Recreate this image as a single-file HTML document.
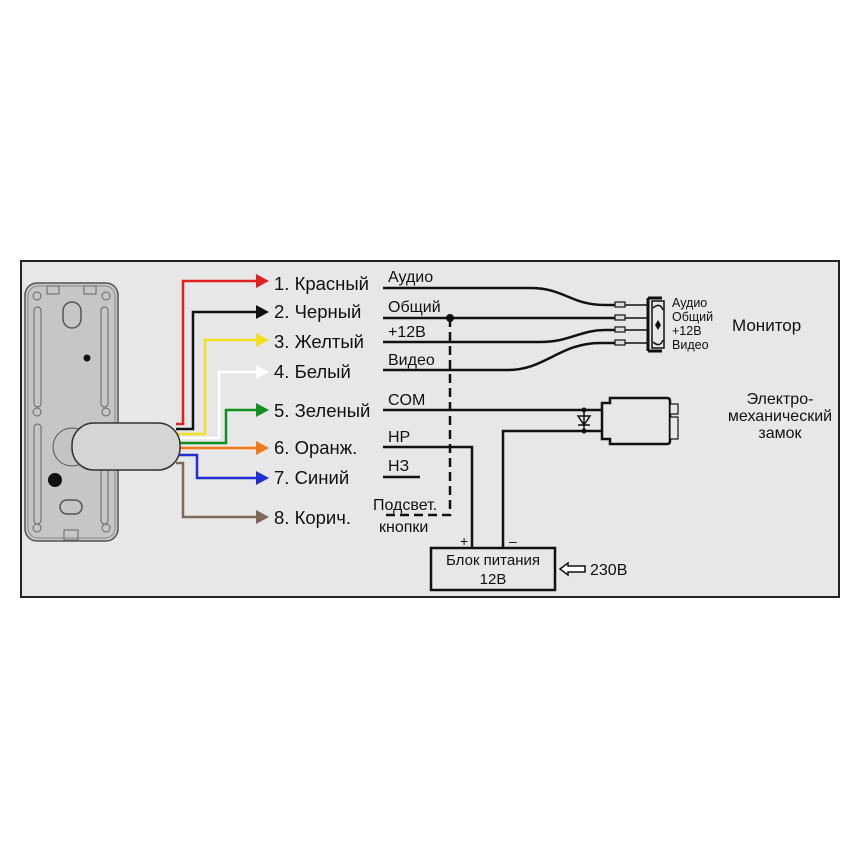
<!DOCTYPE html>
<html><head><meta charset="utf-8"><style>
html,body{margin:0;padding:0;background:#fff;}
svg{display:block;}
text{font-family:"Liberation Sans","DejaVu Sans",sans-serif;fill:#111;}
</style></head><body>
<svg width="860" height="860" viewBox="0 0 860 860" xmlns="http://www.w3.org/2000/svg">
<rect x="0" y="0" width="860" height="860" fill="#fff"/>
<rect x="21" y="261" width="818" height="336" fill="#e7e7e7" stroke="#222" stroke-width="2"/>
<!-- panel -->
<rect x="25" y="283" width="93" height="258" rx="12" fill="#c6c6c6" stroke="#555" stroke-width="1.5"/>
<rect x="28" y="286" width="87" height="252" rx="10" fill="none" stroke="#888" stroke-width="1"/>
<rect x="47" y="286" width="12" height="8" fill="none" stroke="#666"/>
<rect x="84" y="286" width="12" height="8" fill="none" stroke="#666"/>
<circle cx="37" cy="296" r="4" fill="none" stroke="#666"/><circle cx="106" cy="296" r="4" fill="none" stroke="#666"/>
<rect x="63" y="302" width="18" height="26" rx="9" fill="none" stroke="#555" stroke-width="1.5"/>
<rect x="34" y="307" width="7" height="100" rx="3.5" fill="none" stroke="#666"/>
<rect x="101" y="307" width="7" height="100" rx="3.5" fill="none" stroke="#666"/>
<rect x="34" y="424" width="7" height="100" rx="3.5" fill="none" stroke="#666"/>
<rect x="101" y="424" width="7" height="100" rx="3.5" fill="none" stroke="#666"/>
<circle cx="37" cy="412" r="4" fill="none" stroke="#666"/><circle cx="106" cy="412" r="4" fill="none" stroke="#666"/>
<circle cx="37" cy="528" r="4" fill="none" stroke="#666"/><circle cx="106" cy="528" r="4" fill="none" stroke="#666"/>
<circle cx="87" cy="358" r="3.5" fill="#111"/>
<circle cx="55" cy="480" r="7" fill="#111"/>
<rect x="60" y="500" width="22" height="14" rx="7" fill="none" stroke="#555" stroke-width="1.5"/>
<rect x="64" y="530" width="14" height="10" fill="none" stroke="#666"/>
<circle cx="72" cy="447" r="19" fill="#c4c4c4" stroke="#555"/>
<!-- wires -->
<g fill="none" stroke-width="2.5">
<polyline points="176,424 183,424 183,281 258,281" stroke="#e02020"/>
<polyline points="176,429 193,429 193,312 258,312" stroke="#111"/>
<polyline points="176,434 205,434 205,340 258,340" stroke="#f2e020"/>
<polyline points="176,438 219,438 219,372 258,372" stroke="#fff"/>
<polyline points="176,443 226,443 226,410 258,410" stroke="#109020"/>
<polyline points="176,448 258,448" stroke="#f07818"/>
<polyline points="176,455 197,455 197,478 258,478" stroke="#2030d0"/>
<polyline points="176,463 183,463 183,517 258,517" stroke="#806858"/>
</g>
<g>
<polygon points="256,274 269,281 256,288" fill="#e02020"/>
<polygon points="256,305 269,312 256,319" fill="#111"/>
<polygon points="256,333 269,340 256,347" fill="#f2e020"/>
<polygon points="256,365 269,372 256,379" fill="#fff"/>
<polygon points="256,403 269,410 256,417" fill="#109020"/>
<polygon points="256,441 269,448 256,455" fill="#f07818"/>
<polygon points="256,471 269,478 256,485" fill="#2030d0"/>
<polygon points="256,510 269,517 256,524" fill="#806858"/>
</g>
<rect x="72" y="423" width="108" height="47" rx="22" fill="#d5d5d5" stroke="#333" stroke-width="1.5"/>
<!-- labels -->
<g font-size="18.5">
<text x="274" y="290">1. Красный</text>
<text x="274" y="318">2. Черный</text>
<text x="274" y="348">3. Желтый</text>
<text x="274" y="378">4. Белый</text>
<text x="274" y="417">5. Зеленый</text>
<text x="274" y="454">6. Оранж.</text>
<text x="274" y="484">7. Синий</text>
<text x="274" y="524">8. Корич.</text>
</g>
<g font-size="16">
<text x="388" y="282">Аудио</text>
<text x="388" y="312">Общий</text>
<text x="388" y="337">+12В</text>
<text x="388" y="365">Видео</text>
<text x="388" y="405">COM</text>
<text x="388" y="442">НР</text>
<text x="388" y="471">НЗ</text>
<text x="373" y="510">Подсвет.</text>
<text x="379" y="532">кнопки</text>
</g>
<!-- signal lines -->
<g fill="none" stroke="#111" stroke-width="2.5">
<path d="M383,288 H530 C565,288 570,305 605,305 H615"/>
<path d="M383,318 H615"/>
<path d="M383,342 H540 C570,342 580,330 605,330 H615"/>
<path d="M383,370 H508 C545,370 560,343 600,343 H615"/>
<path d="M383,410 H602"/>
<path d="M383,447 H472 V548"/>
<path d="M383,477 H420"/>
<path d="M503,548 V431 H602"/>
<path d="M625,305 H648 M625,318 H648 M625,330 H648 M625,343 H648" stroke-width="1.5"/>
</g>
<g fill="none" stroke="#111" stroke-width="2.5" stroke-dasharray="9,5">
<path d="M450,318 V515 H383"/>
</g>
<circle cx="450" cy="318" r="4" fill="#111"/>
<g fill="#ddd" stroke="#111" stroke-width="1.2">
<rect x="615" y="302" width="10" height="5"/><rect x="615" y="315" width="10" height="5"/>
<rect x="615" y="327" width="10" height="5"/><rect x="615" y="340" width="10" height="5"/>
</g>
<!-- monitor connector -->
<path d="M648,298 V351 M648,298 H662 M648,351 H662" stroke="#111" stroke-width="3" fill="none"/>
<rect x="652" y="301" width="12" height="47" fill="#e7e7e7" stroke="#111" stroke-width="1.5"/>
<path d="M653,308 Q660,302 663,310 M653,342 Q660,348 663,340" stroke="#111" fill="none" stroke-width="1.5"/>
<polygon points="658,320 661,325 658,330 655,325" fill="#111"/>
<g font-size="12.5">
<text x="672" y="307">Аудио</text>
<text x="672" y="321">Общий</text>
<text x="672" y="335">+12В</text>
<text x="672" y="349">Видео</text>
</g>
<text x="732" y="331" font-size="17">Монитор</text>
<!-- diode -->
<circle cx="584" cy="410" r="2.5" fill="#111"/><circle cx="584" cy="431" r="2.5" fill="#111"/>
<path d="M584,410 V431 M578,416 H590 L584,425 Z M578,425 H590" stroke="#111" stroke-width="1.5" fill="none"/>
<!-- lock -->
<path d="M602,409 V403 H610 V398 H667 Q670,398 670,401 V441 Q670,444 667,444 H610 V439 H602 Z" fill="#e7e7e7" stroke="#111" stroke-width="2.5"/>
<rect x="670" y="404" width="8" height="10" fill="#e7e7e7" stroke="#111" stroke-width="1.2"/>
<rect x="670" y="417" width="8" height="22" fill="#e7e7e7" stroke="#111" stroke-width="1.2"/>
<g font-size="16" text-anchor="middle">
<text x="780" y="404">Электро-</text>
<text x="780" y="421">механический</text>
<text x="780" y="438">замок</text>
</g>
<!-- PSU -->
<text x="460" y="546" font-size="14">+</text>
<text x="509" y="546" font-size="14">–</text>
<rect x="431" y="548" width="124" height="42" fill="#e7e7e7" stroke="#111" stroke-width="2.5"/>
<text x="493" y="565" font-size="15" text-anchor="middle">Блок питания</text>
<text x="493" y="584" font-size="15" text-anchor="middle">12В</text>
<polygon points="560,569 568,563 568,566 585,566 585,572 568,572 568,575" fill="#fff" stroke="#111" stroke-width="1.5"/>
<text x="590" y="575" font-size="16">230В</text>
</svg>
</body></html>
